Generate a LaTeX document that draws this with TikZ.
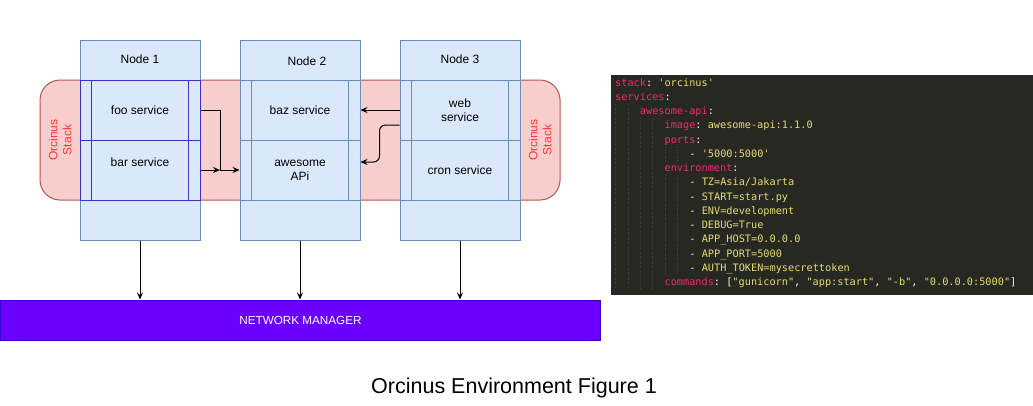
\documentclass[tikz,border=0pt]{standalone}
\usepackage{fontspec}
\setmainfont{Liberation Sans}
\setmonofont{DejaVu Sans Mono}
\usetikzlibrary{arrows.meta,calc}
\definecolor{nodefill}{HTML}{DAE8FC}
\definecolor{nodeline}{HTML}{6C8EBF}
\definecolor{stackfill}{HTML}{F8CECC}
\definecolor{stackline}{HTML}{B85450}
\definecolor{stacktext}{HTML}{FF3333}
\definecolor{svcdark}{HTML}{4030C8}
\definecolor{netfill}{HTML}{6A00FF}
\definecolor{netline}{HTML}{3700CC}
\definecolor{codebg}{HTML}{272822}
\definecolor{mkpink}{HTML}{F92672}
\definecolor{mkyel}{HTML}{E6DB74}
\definecolor{mkwhite}{HTML}{F8F8F2}
\definecolor{mkguide}{HTML}{45453E}
\newcommand\ky[1]{\textcolor{mkpink}{#1}}
\newcommand\vl[1]{\textcolor{mkyel}{#1}}
\begin{document}
\begin{tikzpicture}[x=1pt,y=-1pt,
  lbl/.style={font=\fontsize{12}{14}\selectfont, text=black, align=center},
  nodebox/.style={draw=nodeline, fill=nodefill, line width=1pt, minimum width=120pt, minimum height=200pt, inner sep=0pt},
  svc/.style={draw=nodeline, fill=nodefill, line width=1pt, minimum width=120pt, minimum height=60pt, inner sep=0pt, lbl},
  svcd/.style={svc, draw=svcdark},
  arr/.style={-{Stealth[length=7pt,width=6pt,inset=2.5pt]}, line width=1pt, black},
  code/.style={anchor=base west, inner sep=0pt, font=\ttfamily\fontsize{10.25}{12}\selectfont, text=mkwhite},
  guide/.style={mkguide, dotted, line width=0.5pt},
]
\useasboundingbox (0,0) rectangle (1033,405);
\fill[white] (0,0) rectangle (1033,405);

% stack
\node[draw=stackline, fill=stackfill, line width=1pt, rounded corners=20pt, minimum width=520pt, minimum height=120pt, inner sep=0pt] (stack) at (300,140) {};
\node[rotate=90, lbl, text=stacktext] (sl1) at (60,140) {Orcinus\\Stack};
\node[rotate=90, lbl, text=stacktext] (sl2) at (540,140) {Orcinus\\Stack};

% node boxes
\node[nodebox] (n1) at (140,140) {};
\node[nodebox] (n2) at (300,140) {};
\node[nodebox] (n3) at (460,140) {};
\node[lbl] (n1l) at (140,59) {Node 1};
\node[lbl] (n2l) at (307,61) {Node 2};
\node[lbl] (n3l) at (460,59) {Node 3};

% services
\node[svcd] (foo) at (140,110) {foo service};
\node[svcd] (bar) at (140,170) {\raisebox{8pt}[\height][\depth]{bar service}};
\node[svc] (baz) at (300,110) {baz service};
\node[svc] (awe) at (300,170) {awesome\\APi};
\node[svc] (web) at (460,110) {web\\service};
\node[svc] (cron) at (460,170) {cron service};
\foreach \s/\c in {foo/svcdark,bar/svcdark,baz/nodeline,awe/nodeline,web/nodeline,cron/nodeline}{
  \draw[draw=\c, line width=1pt] ([xshift=12pt]\s.north west) -- ([xshift=12pt]\s.south west)
        ([xshift=-12pt]\s.north east) -- ([xshift=-12pt]\s.south east);
}

% connectors
\coordinate (j1) at (220,170);
\draw[arr] (foo.east) -- (j1 |- foo.east) -- (j1) -- (awe.west);
\draw[arr] (bar.east) -- (j1);
\draw[arr] (web.west) -- (baz.east);
\draw[arr, rounded corners=6pt] ([yshift=-15pt]web.west) -- ++(-20,0) |- ([yshift=8pt]awe.east);

% network manager
\node[draw=netline, fill=netfill, line width=1pt, minimum width=600pt, minimum height=40pt, inner sep=0pt, text=white, font=\fontsize{11.7}{14}\selectfont] (net) at (300.5,320) {NETWORK MANAGER};
\foreach \n in {n1,n2,n3}{ \draw[arr] (\n.south) -- (\n.south |- net.north); }

% code panel
\node[fill=codebg, anchor=north west, minimum width=422pt, minimum height=220pt, inner sep=0pt] (codepanel) at (611,75) {};
\draw[guide] (615.5,104) -- (615.5,289);
\draw[guide] (627.9,104) -- (627.9,289);
\draw[guide] (640.2,118) -- (640.2,289);
\draw[guide] (652.6,118) -- (652.6,289);
\draw[guide] (665,147) -- (665,161) (665,175) -- (665,275);
\draw[guide] (677.4,147) -- (677.4,161) (677.4,175) -- (677.4,275);

\node[code] (c1) at (615,86) {\ky{stack}: \vl{'orcinus'}};
\node[code] (c2) at (615,100.25) {\ky{services}:};
\node[code] (c3) at (639.7,114.5) {\ky{awesome-api}:};
\node[code] (c4) at (664.4,128.75) {\ky{image}: \vl{awesome-api:1.1.0}};
\node[code] (c5) at (664.4,143) {\ky{ports}:};
\node[code] (c6) at (689.2,157.25) {- \vl{'5000:5000'}};
\node[code] (c7) at (664.4,171.5) {\ky{environment}:};
\node[code] (c8) at (689.2,185.75) {- \vl{TZ=Asia/Jakarta}};
\node[code] (c9) at (689.2,200) {- \vl{START=start.py}};
\node[code] (c10) at (689.2,214.25) {- \vl{ENV=development}};
\node[code] (c11) at (689.2,228.5) {- \vl{DEBUG=True}};
\node[code] (c12) at (689.2,242.75) {- \vl{APP\_HOST=0.0.0.0}};
\node[code] (c13) at (689.2,257) {- \vl{APP\_PORT=5000}};
\node[code] (c14) at (689.2,271.25) {- \vl{AUTH\_TOKEN=mysecrettoken}};
\node[code] (c15) at (664.4,285.5) {\ky{commands}: [\vl{"gunicorn"}, \vl{"app:start"}, \vl{"-b"}, \vl{"0.0.0.0:5000"}]};

% caption
\node[anchor=base, font=\fontsize{21.5}{24}\selectfont] (cap) at (514,393) {Orcinus Environment Figure 1};
\end{tikzpicture}
\end{document}
